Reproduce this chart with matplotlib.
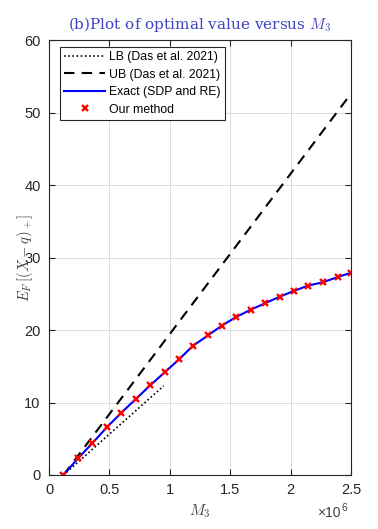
import matplotlib
matplotlib.use("Agg")
import matplotlib.pyplot as plt
import numpy as np

plt.rcParams['mathtext.fontset'] = 'cm'
plt.rcParams['font.family'] = ['Liberation Sans', 'DejaVu Sans']

# Data (x in units of 1e6)
m3 = [0.12, 0.24, 0.36, 0.48, 0.60, 0.72, 0.84, 0.96, 1.08, 1.19, 1.32,
      1.43, 1.55, 1.67, 1.79, 1.91, 2.03, 2.14, 2.27, 2.39, 2.50]
exact = [0.0, 2.3, 4.4, 6.6, 8.6, 10.5, 12.4, 14.2, 16.0, 17.8, 19.3,
         20.6, 21.8, 22.8, 23.7, 24.6, 25.4, 26.1, 26.6, 27.3, 27.9]
ours = exact
lb_x = [0.12, 0.95]
lb_y = [0.0, 12.3]
ub_x = [0.12, 2.50]
ub_y = [0.0, 52.6]

xticks = [0, 0.5, 1, 1.5, 2, 2.5]
xticklabels = ['0', '0.5', '1', '1.5', '2', '2.5']
yticks = [0, 10, 20, 30, 40, 50, 60]

fig = plt.figure(figsize=(3.78, 5.29), dpi=100)
ax = fig.add_axes([49/378, 1-475/529, 302/378, 435/529])

ax.plot(lb_x, lb_y, color='black', linestyle=(0, (1, 1.5)), lw=1.2,
        label='LB (Das et al. 2021)')
ax.plot(ub_x, ub_y, color='black', linestyle=(0, (5, 3.5)), lw=1.5,
        label='UB (Das et al. 2021)')
ax.plot(m3, exact, color='#0000ff', lw=1.5, label='Exact (SDP and RE)')
ax.plot(m3, ours, linestyle='none', marker='x', color='#ff0000', ms=5,
        mew=1.7, label='Our method')

ax.set_xlim(0, 2.5)
ax.set_ylim(0, 60)
ax.set_xticks(xticks)
ax.set_xticklabels(xticklabels)
ax.set_yticks(yticks)
ax.grid(True, color='#dcdcdc', lw=0.7)
ax.set_axisbelow(True)
ax.tick_params(direction='in', length=4, labelsize=10.5, colors='#262626',
               top=True, right=True, labelcolor='#262626', pad=6)
for s in ax.spines.values():
    s.set_color('#262626')
    s.set_linewidth(0.8)

ax.set_title(r'(b)Plot of optimal value versus $M_3$', color='#4040c4',
             fontsize=11, family='DejaVu Serif', pad=8)
ax.set_xlabel(r'$M_3$', fontsize=11, color='#404040', labelpad=4)
ax.set_ylabel(r'$E_F\,[(X-q)_+]$', fontsize=10.5, color='#404040', labelpad=-8)
ax.text(0.965, -0.088, '×10', transform=ax.transAxes,
        ha='right', va='center', fontsize=10, color='#404040')
ax.text(0.967, -0.076, '6', transform=ax.transAxes,
        ha='left', va='center', fontsize=7.5, color='#404040')

leg = ax.legend(loc='upper left', fontsize=8.8, handlelength=3.4,
                handletextpad=0.3, borderpad=0.35, labelspacing=0.45,
                borderaxespad=0.0, fancybox=False, framealpha=1,
                edgecolor='#262626', bbox_to_anchor=(0.035, 0.984),
                markerscale=0.8)
leg.get_frame().set_linewidth(0.8)

fig.savefig('out.png', dpi=100)
